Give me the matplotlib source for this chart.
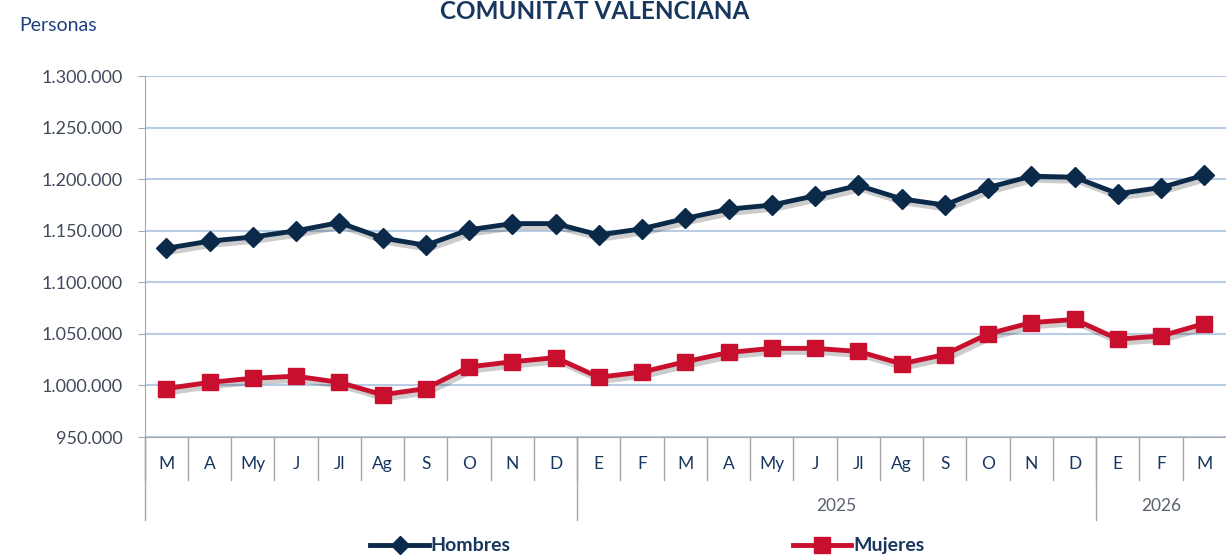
import matplotlib.pyplot as plt
import matplotlib.patheffects as pe
from matplotlib.lines import Line2D
from matplotlib.ticker import FuncFormatter

meses = ["M", "A", "My", "J", "Jl", "Ag", "S", "O", "N", "D",
         "E", "F", "M", "A", "My", "J", "Jl", "Ag", "S", "O", "N", "D",
         "E", "F", "M"]
hombres = [1133000, 1140000, 1144000, 1150000, 1158000, 1143000, 1136000, 1151000, 1157000, 1157000,
           1146000, 1152000, 1162000, 1171000, 1175000, 1184000, 1194000, 1181000, 1175000, 1192000,
           1203000, 1202000, 1186000, 1192000, 1204000]
mujeres = [997000, 1003000, 1007000, 1009000, 1003000, 991000, 997000, 1018000, 1023000, 1027000,
           1008000, 1013000, 1023000, 1032000, 1036000, 1036000, 1033000, 1021000, 1030000, 1050000,
           1061000, 1064000, 1045000, 1048000, 1060000]
anios = ["", "2025", "2026"]
grupos = [(0, 9), (10, 21), (22, 24)]

plt.rcParams["font.family"] = ["Lato", "DejaVu Sans"]
azul = "#17375E"
gris = "#A6A6A6"
c_h = "#0B2A4A"
c_m = "#C8102E"

fig = plt.figure(figsize=(12.26, 5.56), dpi=100)
ax = fig.add_axes([0.118, 0.214, 0.882, 0.649])

x = list(range(len(meses)))
sombra = [pe.SimpleLineShadow(offset=(2, -3), alpha=0.2), pe.Normal()]
# linea con sombra, marcadores encima
ax.plot(x, hombres, color=c_h, lw=3.5, path_effects=sombra)
ax.plot(x, hombres, color=c_h, lw=0, marker="D", ms=10)
ax.plot(x, mujeres, color=c_m, lw=3.5, path_effects=sombra)
ax.plot(x, mujeres, color=c_m, lw=0, marker="s", ms=12)

ax.set_ylim(950000, 1300000)
ax.set_yticks(range(950000, 1300001, 50000))
ax.yaxis.set_major_formatter(FuncFormatter(lambda v, p: f"{int(v):,}".replace(",", ".")))
ax.grid(axis="y", color="#B9CDE5", lw=1.5)
ax.set_axisbelow(True)
ax.set_xlim(-0.5, len(meses) - 0.5)

ax.set_xticks(x)
ax.set_xticklabels(meses)
ax.tick_params(axis="x", length=0, pad=14, labelsize=12.5, labelcolor=azul)
ax.tick_params(axis="y", length=5, color=gris, labelsize=13, labelcolor="#404A5A", pad=11)

for s in ["top", "right"]:
    ax.spines[s].set_visible(False)
for s in ["left", "bottom"]:
    ax.spines[s].set_color(gris)

trans = ax.get_xaxis_transform()
for i in range(len(meses)):
    ax.plot([i - 0.5, i - 0.5], [0, -0.12], color=gris, lw=1, transform=trans, clip_on=False)
for (a, b), anio in zip(grupos, anios):
    ax.plot([a - 0.5, a - 0.5], [0, -0.23], color=gris, lw=1, transform=trans, clip_on=False)
    ax.text((a + b) / 2, -0.19, anio, transform=trans, ha="center", va="center",
            fontsize=12.5, color="#5A6270")

fig.text(0.016, 0.955, "Personas", fontsize=14, color="#1F3F7F", va="center")
fig.text(0.485, 0.98, "COMUNITAT VALENCIANA", fontsize=17.5, fontweight="bold",
         color=azul, ha="center", va="center")

handles = [Line2D([], [], color=c_h, lw=3.5, marker="D", ms=9),
           Line2D([], [], color=c_m, lw=3.5, marker="s", ms=11)]
leg = fig.legend(handles, ["Hombres", "Mujeres"], loc="center", bbox_to_anchor=(0.528, 0.018),
                 ncol=2, frameon=False, handlelength=3, columnspacing=14.5, fontsize=14,
                 handletextpad=0.1)
for t in leg.get_texts():
    t.set_color(azul)
    t.set_fontweight("bold")

fig.savefig("out.png", dpi=100)
